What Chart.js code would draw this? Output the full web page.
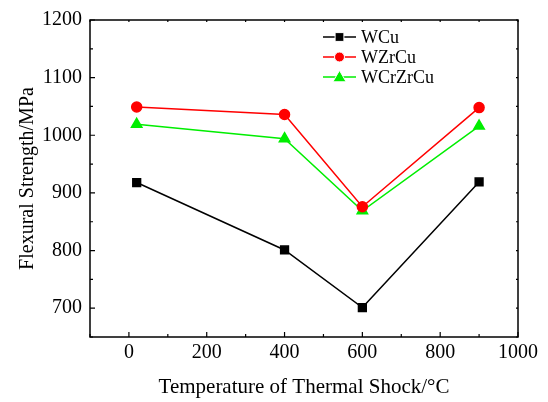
<!DOCTYPE html>
<html>
<head>
<meta charset="utf-8">
<script src="https://cdn.jsdelivr.net/npm/chart.js@4.4.0/dist/chart.umd.min.js"></script>
<style>
  html, body { margin: 0; padding: 0; background: #fff; }
  #wrap { width: 548px; height: 402px; }
</style>
</head>
<body>
<div id="wrap"><canvas id="shockChart"></canvas></div>
<script>
const temps = [20, 400, 600, 900];
const wcu = [918, 801, 701, 919];
const wzrcu = [1049, 1036, 876, 1048];
const wcrzrcu = [1019, 994, 869, 1016];

const seriesNames = ["WCu", "WZrCu", "WCrZrCu"];
const xTicks = [0, 200, 400, 600, 800, 1000];
const yTicks = [700, 800, 900, 1000, 1100, 1200];

const serif = "'Liberation Serif', 'Times New Roman', serif";

function toPoints(vals) {
  return temps.map((t, i) => ({ x: t, y: vals[i] }));
}

// box + inward ticks + legend, all from the chart's own scales
const framePlugin = {
  id: "frame",
  afterDraw(chart) {
    const { ctx, chartArea: a, scales } = chart;
    const xs = scales.x, ys = scales.y;
    ctx.save();
    ctx.strokeStyle = "#000";
    ctx.lineWidth = 1.5;
    ctx.strokeRect(a.left, a.top, a.right - a.left, a.bottom - a.top);

    ctx.lineWidth = 1.2;
    ctx.beginPath();
    for (let v = -100; v <= 1000; v += 100) {
      const px = xs.getPixelForValue(v);
      const len = v % 200 === 0 ? 5 : 3;
      ctx.moveTo(px, a.bottom); ctx.lineTo(px, a.bottom - len);
      ctx.moveTo(px, a.top); ctx.lineTo(px, a.top + 2);
    }
    for (let v = 650; v <= 1200; v += 50) {
      const py = ys.getPixelForValue(v);
      const len = v % 100 === 0 ? 5 : 3;
      ctx.moveTo(a.left, py); ctx.lineTo(a.left + len, py);
      ctx.moveTo(a.right, py); ctx.lineTo(a.right - 2, py);
    }
    ctx.stroke();

    // legend
    ctx.font = "18px " + serif;
    ctx.textBaseline = "middle";
    chart.data.datasets.forEach((ds, i) => {
      const y = 37 + i * 20;
      ctx.strokeStyle = ds.borderColor;
      ctx.lineWidth = 1.5;
      ctx.beginPath();
      ctx.moveTo(323, y); ctx.lineTo(356, y);
      ctx.stroke();
      ctx.fillStyle = ds.pointBackgroundColor;
      ctx.strokeStyle = "#fff";
      ctx.lineWidth = 1;
      const r = ds.pointRadius;
      ctx.beginPath();
      if (ds.pointStyle === "rect") {
        ctx.rect(339.5 - r * 0.8, y - r * 0.8, r * 1.6, r * 1.6);
      } else if (ds.pointStyle === "circle") {
        ctx.arc(339.5, y, r, 0, Math.PI * 2);
      } else {
        ctx.moveTo(339.5, y - r * 1.1);
        ctx.lineTo(339.5 + r * 1.1, y + r * 0.8);
        ctx.lineTo(339.5 - r * 1.1, y + r * 0.8);
        ctx.closePath();
      }
      ctx.fill();
      ctx.stroke();
      ctx.fillStyle = "#000";
      ctx.fillText(ds.label, 361, y + 1);
    });
    ctx.restore();
  }
};

const ctx = document.getElementById("shockChart").getContext("2d");
const chart = new Chart(ctx, {
  type: "line",
  data: {
    datasets: [
      {
        label: seriesNames[0], data: toPoints(wcu),
        borderColor: "#000", backgroundColor: "#000", pointBackgroundColor: "#000",
        pointStyle: "rect", pointRadius: 5.5, borderWidth: 1.5
      },
      {
        label: seriesNames[1], data: toPoints(wzrcu),
        borderColor: "#ff0000", backgroundColor: "#ff0000", pointBackgroundColor: "#ff0000",
        pointStyle: "circle", pointRadius: 5, borderWidth: 1.5
      },
      {
        label: seriesNames[2], data: toPoints(wcrzrcu),
        borderColor: "#00ee00", backgroundColor: "#00ee00", pointBackgroundColor: "#00ee00",
        pointStyle: "triangle", pointRadius: 6, borderWidth: 1.5
      }
    ]
  },
  options: {
    responsive: true,
    maintainAspectRatio: false,
    animation: false,
    layout: { padding: { top: 19, right: 30, left: 0, bottom: 0 } },
    elements: {
      point: { borderWidth: 1.2, borderColor: "#fff" },
      line: { tension: 0 }
    },
    plugins: { legend: { display: false }, tooltip: { enabled: false } },
    scales: {
      x: {
        type: "linear", min: -100, max: 1000,
        grid: { display: false, drawTicks: false },
        border: { display: false },
        afterBuildTicks: s => { s.ticks = xTicks.map(v => ({ value: v })); },
        afterFit: s => { s.height = 65; },
        ticks: {
          color: "#000", padding: 4, font: { family: serif, size: 20 },
          callback: v => String(v)
        },
        title: {
          display: true, text: "Temperature of Thermal Shock/\u00b0C", color: "#000",
          font: { family: serif, size: 21 }, padding: { top: 0, bottom: 2 }
        }
      },
      y: {
        type: "linear", min: 650, max: 1200,
        grid: { display: false, drawTicks: false },
        border: { display: false },
        afterBuildTicks: s => { s.ticks = yTicks.map(v => ({ value: v })); },
        afterFit: s => { s.width = 90; },
        ticks: {
          color: "#000", padding: 8, font: { family: serif, size: 20 },
          callback: v => String(v)
        },
        title: {
          display: true, text: "Flexural Strength/MPa", color: "#000",
          font: { family: serif, size: 20 }, padding: { top: 16, bottom: 0 }
        }
      }
    }
  },
  plugins: [framePlugin]
});
</script>
</body>
</html>
